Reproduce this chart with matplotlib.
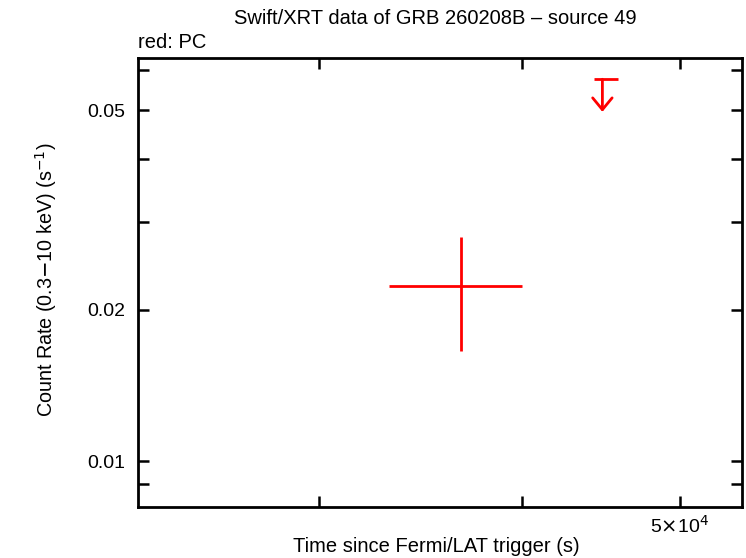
import matplotlib
matplotlib.use("Agg")
import matplotlib.pyplot as plt
from matplotlib.ticker import FixedLocator, NullFormatter, NullLocator

plt.rcParams['font.family'] = ['Liberation Sans', 'DejaVu Sans']

# detection (PC mode)
t = [3.666e4]
t_lo = [3.31e4]
t_hi = [4.00e4]
rate = [0.0223]
rate_lo = [0.01657]
rate_hi = [0.02796]

# upper limit
ul_t = [4.48e4]
ul_t_lo = [4.43e4]
ul_t_hi = [4.58e4]
ul_rate = [0.0576]
ul_tip = [0.0496]

fig = plt.figure(figsize=(7.46, 5.58), dpi=100)
ax = fig.add_axes([138/746, 51/558, 604/746, 449/558])
ax.set_xscale('log')
ax.set_yscale('log')
ax.set_xlim(2.32e4, 5.46e4)
ax.set_ylim(0.0081, 0.0635)

xerr = [[t[i] - t_lo[i] for i in range(len(t))], [t_hi[i] - t[i] for i in range(len(t))]]
yerr = [[rate[i] - rate_lo[i] for i in range(len(t))], [rate_hi[i] - rate[i] for i in range(len(t))]]
ax.errorbar(t, rate, xerr=xerr, yerr=yerr, fmt='none', ecolor='red', elinewidth=2, capsize=0)

# upper limit bar + arrow
ax.errorbar(ul_t, ul_rate, xerr=[[ul_t[0] - ul_t_lo[0]], [ul_t_hi[0] - ul_t[0]]],
            fmt='none', ecolor='red', elinewidth=2, capsize=0)
ax.annotate('', xy=(ul_t[0], ul_tip[0]), xytext=(ul_t[0], ul_rate[0]),
            arrowprops=dict(arrowstyle='->,head_length=0.85,head_width=0.7', color='red', lw=2,
                            shrinkA=0, shrinkB=0, mutation_scale=10))

# ticks like gnuplot
ax.xaxis.set_major_locator(FixedLocator([3e4, 4e4, 5e4]))
ax.xaxis.set_minor_locator(NullLocator())
ax.set_xticklabels(['', '', r'5$\times$10$^4$'])
ax.yaxis.set_major_locator(FixedLocator([0.01, 0.02, 0.05]))
ax.yaxis.set_minor_locator(FixedLocator([0.009, 0.03, 0.04, 0.06]))
ax.yaxis.set_minor_formatter(NullFormatter())
ax.set_yticklabels(['0.01', '0.02', '0.05'])
ax.tick_params(which='both', direction='in', top=True, right=True, width=1.8, length=8, labelsize=14)
ax.tick_params(axis='y', pad=9)
ax.tick_params(axis='x', pad=6)
for s in ax.spines.values():
    s.set_linewidth(2)

fig.text(436/746, 1 - 547/558, 'Time since Fermi/LAT trigger (s)', ha='center', va='center', fontsize=14.5)
fig.text(46/746, 1 - 280/558, 'Count Rate (0.3$-$10 keV) (s$^{-1}$)', rotation=90,
         ha='center', va='center', fontsize=14.2)
fig.text(435/746, 1 - 18/558, 'Swift/XRT data of GRB 260208B – source 49', ha='center', va='center', fontsize=14.5)
fig.text(138/746, 1 - 42/558, 'red: PC', ha='left', va='center', fontsize=14.5)

fig.savefig('out.png', dpi=100)
